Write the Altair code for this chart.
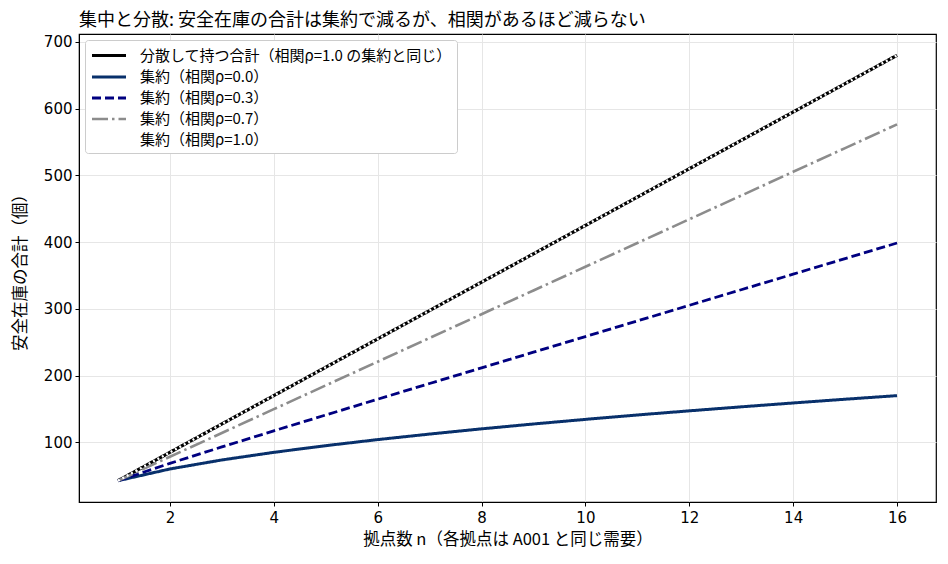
import altair as alt
import pandas as pd

# number of locations pooled
n_sites = [1, 2, 3, 4, 5, 6, 7, 8, 9, 10, 11, 12, 13, 14, 15, 16]

# safety stock totals
total_split = [42.5, 85.0, 127.5, 170.0, 212.5, 255.0, 297.5, 340.0,
               382.5, 425.0, 467.5, 510.0, 552.5, 595.0, 637.5, 680.0]
pooled_r00 = [42.5, 60.1, 73.6, 85.0, 95.0, 104.1, 112.4, 120.2,
              127.5, 134.4, 141.0, 147.2, 153.2, 159.0, 164.6, 170.0]
pooled_r03 = [42.5, 68.5, 93.1, 117.2, 141.0, 164.6, 188.2, 211.6,
              235.1, 258.5, 281.9, 305.3, 328.7, 352.0, 375.4, 398.7]
pooled_r07 = [42.5, 78.4, 114.0, 149.7, 185.3, 220.8, 256.4, 292.0,
              327.6, 363.1, 398.7, 434.3, 469.8, 505.4, 540.9, 576.5]
pooled_r10 = [42.5, 85.0, 127.5, 170.0, 212.5, 255.0, 297.5, 340.0,
              382.5, 425.0, 467.5, 510.0, 552.5, 595.0, 637.5, 680.0]

series_names = [
    "分散して持つ合計（相関ρ=1.0 の集約と同じ）",
    "集約（相関ρ=0.0）",
    "集約（相関ρ=0.3）",
    "集約（相関ρ=0.7）",
    "集約（相関ρ=1.0）",
]
series_colors = ["#000000", "#08306b", "#000080", "#8c8c8c", "#ffffff"]
series_dash = [[1, 0], [1, 0], [9, 4], [16, 4, 2.5, 4], [2, 3]]
series_width = [3.2, 2.4, 2.4, 2.4, 1.8]

FONT = "Noto Sans CJK JP"

rows = []
for name, vals in zip(series_names, [total_split, pooled_r00, pooled_r03, pooled_r07, pooled_r10]):
    for n, v in zip(n_sites, vals):
        rows.append({"n": n, "stock": v, "series": name})
df = pd.DataFrame(rows)

legend = alt.Legend(
    title=None, orient="top-left", offset=6, fillColor="white",
    strokeColor="#cccccc", cornerRadius=3, padding=5,
    symbolType="M-1,0H3", symbolSize=289, labelOffset=29,
    labelFont=FONT, labelFontSize=15, rowPadding=3, labelLimit=600,
)
color = alt.Color("series:N", scale=alt.Scale(domain=series_names, range=series_colors), legend=legend)
dash = alt.StrokeDash("series:N", scale=alt.Scale(domain=series_names, range=series_dash), legend=legend)
width = alt.StrokeWidth("series:N", scale=alt.Scale(domain=series_names, range=series_width), legend=legend)

x = alt.X("n:Q", title="拠点数 n（各拠点は A001 と同じ需要）",
          scale=alt.Scale(domain=[0.25, 16.75], nice=False, zero=False),
          axis=alt.Axis(values=[2, 4, 6, 8, 10, 12, 14, 16]))
y = alt.Y("stock:Q", title="安全在庫の合計（個）",
          scale=alt.Scale(domain=[10.6, 711.9], nice=False, zero=False),
          axis=alt.Axis(values=[100, 200, 300, 400, 500, 600, 700]))

base = alt.Chart(df)
lines = base.transform_filter(alt.datum.series != series_names[4]).mark_line().encode(
    x=x, y=y, color=color, strokeDash=dash, strokeWidth=width)
top_line = base.transform_filter(alt.datum.series == series_names[4]).mark_line().encode(
    x=x, y=y, color=color, strokeDash=dash, strokeWidth=width)

chart = alt.layer(lines, top_line).properties(
    width=857, height=468,
    autosize=alt.AutoSizeParams(type="none"),
    padding={"left": 71, "top": 26, "right": 4, "bottom": 52},
    title=alt.Title("集中と分散: 安全在庫の合計は集約で減るが、相関があるほど減らない",
                    anchor="start", frame="group", font=FONT, fontSize=18,
                    fontWeight="normal", offset=4, color="black"),
).configure_view(stroke="black", strokeWidth=1.2).configure_axis(
    labelFont="DejaVu Sans", labelFontSize=15, labelColor="black",
    titleFont=FONT, titleFontSize=16.5, titleFontWeight="normal", titleColor="black",
    domainColor="black", tickColor="black", tickSize=4, labelPadding=3,
    gridColor="#e6e6e6", gridWidth=1,
).configure_axisX(labelPadding=4, titlePadding=6).configure_axisY(titlePadding=15)

chart.save("out.html", embed_options={"renderer": "svg", "actions": False})
